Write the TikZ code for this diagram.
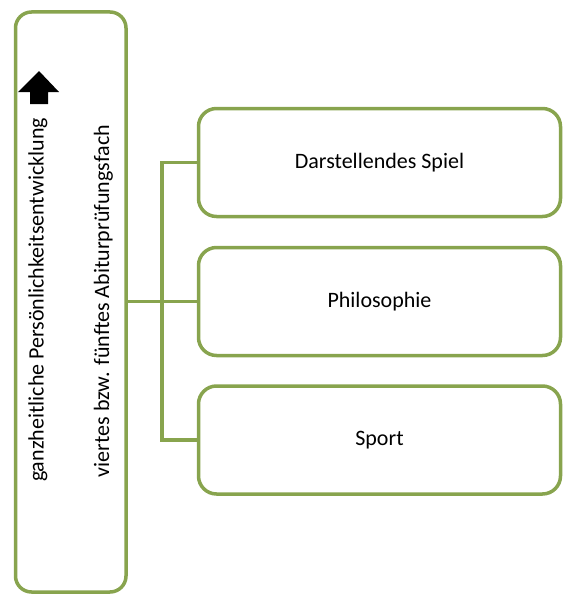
\documentclass[tikz,border=0pt]{standalone}
\usepackage{fontspec}
\setmainfont{Carlito}
\definecolor{olivegreen}{RGB}{136,164,78}
\tikzset{
  fachbox/.style={draw=olivegreen, line width=3.5pt, rounded corners=18pt,
    minimum width=362pt, minimum height=108pt, inner sep=0pt,
    font=\fontsize{22}{26}\selectfont},
  stammbox/.style={draw=olivegreen, line width=3.5pt, rounded corners=16pt,
    minimum width=110.5pt, minimum height=580pt, inner sep=0pt},
  leiste/.style={olivegreen, line width=3.5pt},
  hochtext/.style={rotate=90, inner sep=0pt, font=\fontsize{22}{26}\selectfont}
}
\begin{document}
\begin{tikzpicture}[x=1pt, y=-1pt]
			\useasboundingbox (0, 0) rectangle (580, 602);
			\node [stammbox] (stamm) at (70.75, 302) {};
			\node [hochtext] (ganz) at (38, 300) {ganzheitliche Persönlichkeitsentwicklung};
			\node [hochtext] (abi) at (103.5, 301) {viertes bzw. fünftes Abiturprüfungsfach};
			% Pfeil
			\fill (39, 71) -- (59, 92) -- (48, 92) -- (48, 104) -- (30, 104) -- (30, 92) -- (18, 92) -- cycle;
			\node [fachbox] (ds) at (379.5, 162.5) {Darstellendes Spiel};
			\node [fachbox] (philo) at (379.5, 301.5) {Philosophie};
			\node [fachbox] (sport) at (379.5, 440) {Sport};
			\coordinate (knick) at (162, 0);
			\draw [leiste] (stamm.east |- philo) -- (philo.west);
			\draw [leiste] (ds.west) -- (knick |- ds) -- (knick |- sport) -- (sport.west);
		\end{tikzpicture}
\end{document}
